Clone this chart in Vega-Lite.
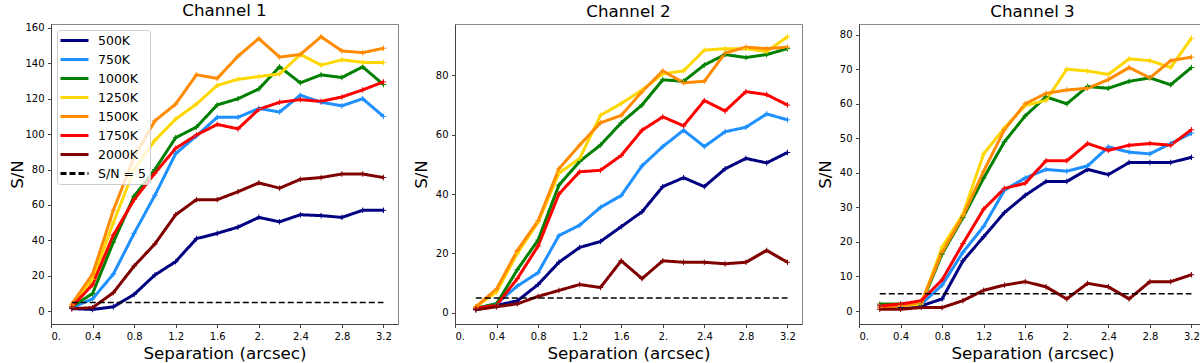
{
"$schema": "https://vega.github.io/schema/vega-lite/v6.json",
"padding": {"left": 8, "top": 2, "right": 0, "bottom": 0},
"spacing": 13,
"datasets": {"d": [
{"c":1,"s":"500K","x":0.2,"y":1.5},{"c":1,"s":"500K","x":0.4,"y":1},{"c":1,"s":"500K","x":0.6,"y":2.5},{"c":1,"s":"500K","x":0.8,"y":9.5},{"c":1,"s":"500K","x":1.0,"y":20.5},{"c":1,"s":"500K","x":1.2,"y":28},{"c":1,"s":"500K","x":1.4,"y":41},{"c":1,"s":"500K","x":1.6,"y":44},{"c":1,"s":"500K","x":1.8,"y":47.5},{"c":1,"s":"500K","x":2.0,"y":53},{"c":1,"s":"500K","x":2.2,"y":50.5},{"c":1,"s":"500K","x":2.4,"y":54.5},{"c":1,"s":"500K","x":2.6,"y":54},{"c":1,"s":"500K","x":2.8,"y":53},{"c":1,"s":"500K","x":3.0,"y":57},{"c":1,"s":"500K","x":3.2,"y":57},
{"c":1,"s":"750K","x":0.2,"y":2},{"c":1,"s":"750K","x":0.4,"y":7},{"c":1,"s":"750K","x":0.6,"y":21},{"c":1,"s":"750K","x":0.8,"y":44},{"c":1,"s":"750K","x":1.0,"y":65.5},{"c":1,"s":"750K","x":1.2,"y":89},{"c":1,"s":"750K","x":1.4,"y":99},{"c":1,"s":"750K","x":1.6,"y":109.5},{"c":1,"s":"750K","x":1.8,"y":109.5},{"c":1,"s":"750K","x":2.0,"y":114.5},{"c":1,"s":"750K","x":2.2,"y":112.5},{"c":1,"s":"750K","x":2.4,"y":122},{"c":1,"s":"750K","x":2.6,"y":118},{"c":1,"s":"750K","x":2.8,"y":116},{"c":1,"s":"750K","x":3.0,"y":120},{"c":1,"s":"750K","x":3.2,"y":110},
{"c":1,"s":"1000K","x":0.2,"y":2.5},{"c":1,"s":"1000K","x":0.4,"y":10},{"c":1,"s":"1000K","x":0.6,"y":39},{"c":1,"s":"1000K","x":0.8,"y":65},{"c":1,"s":"1000K","x":1.0,"y":80},{"c":1,"s":"1000K","x":1.2,"y":98},{"c":1,"s":"1000K","x":1.4,"y":104},{"c":1,"s":"1000K","x":1.6,"y":116.5},{"c":1,"s":"1000K","x":1.8,"y":120},{"c":1,"s":"1000K","x":2.0,"y":125.5},{"c":1,"s":"1000K","x":2.2,"y":138},{"c":1,"s":"1000K","x":2.4,"y":129},{"c":1,"s":"1000K","x":2.6,"y":133.5},{"c":1,"s":"1000K","x":2.8,"y":132},{"c":1,"s":"1000K","x":3.0,"y":138},{"c":1,"s":"1000K","x":3.2,"y":128},
{"c":1,"s":"1250K","x":0.2,"y":3.5},{"c":1,"s":"1250K","x":0.4,"y":18},{"c":1,"s":"1250K","x":0.6,"y":50},{"c":1,"s":"1250K","x":0.8,"y":80},{"c":1,"s":"1250K","x":1.0,"y":96.5},{"c":1,"s":"1250K","x":1.2,"y":108.5},{"c":1,"s":"1250K","x":1.4,"y":117},{"c":1,"s":"1250K","x":1.6,"y":127.5},{"c":1,"s":"1250K","x":1.8,"y":131},{"c":1,"s":"1250K","x":2.0,"y":132.5},{"c":1,"s":"1250K","x":2.2,"y":134},{"c":1,"s":"1250K","x":2.4,"y":145},{"c":1,"s":"1250K","x":2.6,"y":139},{"c":1,"s":"1250K","x":2.8,"y":142},{"c":1,"s":"1250K","x":3.0,"y":140.5},{"c":1,"s":"1250K","x":3.2,"y":140.5},
{"c":1,"s":"1500K","x":0.2,"y":4},{"c":1,"s":"1500K","x":0.4,"y":21},{"c":1,"s":"1500K","x":0.6,"y":57},{"c":1,"s":"1500K","x":0.8,"y":87},{"c":1,"s":"1500K","x":1.0,"y":107.5},{"c":1,"s":"1500K","x":1.2,"y":117},{"c":1,"s":"1500K","x":1.4,"y":133.5},{"c":1,"s":"1500K","x":1.6,"y":131.5},{"c":1,"s":"1500K","x":1.8,"y":144},{"c":1,"s":"1500K","x":2.0,"y":154},{"c":1,"s":"1500K","x":2.2,"y":143.5},{"c":1,"s":"1500K","x":2.4,"y":145},{"c":1,"s":"1500K","x":2.6,"y":155},{"c":1,"s":"1500K","x":2.8,"y":147},{"c":1,"s":"1500K","x":3.0,"y":146},{"c":1,"s":"1500K","x":3.2,"y":148.5},
{"c":1,"s":"1750K","x":0.2,"y":2.5},{"c":1,"s":"1750K","x":0.4,"y":15},{"c":1,"s":"1750K","x":0.6,"y":43},{"c":1,"s":"1750K","x":0.8,"y":63},{"c":1,"s":"1750K","x":1.0,"y":78},{"c":1,"s":"1750K","x":1.2,"y":92},{"c":1,"s":"1750K","x":1.4,"y":99.5},{"c":1,"s":"1750K","x":1.6,"y":105.5},{"c":1,"s":"1750K","x":1.8,"y":103},{"c":1,"s":"1750K","x":2.0,"y":114},{"c":1,"s":"1750K","x":2.2,"y":118},{"c":1,"s":"1750K","x":2.4,"y":119.5},{"c":1,"s":"1750K","x":2.6,"y":118.5},{"c":1,"s":"1750K","x":2.8,"y":121},{"c":1,"s":"1750K","x":3.0,"y":125},{"c":1,"s":"1750K","x":3.2,"y":129.5},
{"c":1,"s":"2000K","x":0.2,"y":1.5},{"c":1,"s":"2000K","x":0.4,"y":2},{"c":1,"s":"2000K","x":0.6,"y":10.5},{"c":1,"s":"2000K","x":0.8,"y":25.5},{"c":1,"s":"2000K","x":1.0,"y":38},{"c":1,"s":"2000K","x":1.2,"y":54.5},{"c":1,"s":"2000K","x":1.4,"y":63},{"c":1,"s":"2000K","x":1.6,"y":63},{"c":1,"s":"2000K","x":1.8,"y":67.5},{"c":1,"s":"2000K","x":2.0,"y":72.5},{"c":1,"s":"2000K","x":2.2,"y":69.5},{"c":1,"s":"2000K","x":2.4,"y":74.5},{"c":1,"s":"2000K","x":2.6,"y":75.5},{"c":1,"s":"2000K","x":2.8,"y":77.5},{"c":1,"s":"2000K","x":3.0,"y":77.5},{"c":1,"s":"2000K","x":3.2,"y":75.5},
{"c":1,"s":"S/N = 5","x":0.2,"y":5},{"c":1,"s":"S/N = 5","x":3.2,"y":5},
{"c":2,"s":"500K","x":0.2,"y":1},{"c":2,"s":"500K","x":0.4,"y":2.5},{"c":2,"s":"500K","x":0.6,"y":4},{"c":2,"s":"500K","x":0.8,"y":9.5},{"c":2,"s":"500K","x":1.0,"y":17},{"c":2,"s":"500K","x":1.2,"y":22},{"c":2,"s":"500K","x":1.4,"y":24},{"c":2,"s":"500K","x":1.6,"y":29},{"c":2,"s":"500K","x":1.8,"y":34},{"c":2,"s":"500K","x":2.0,"y":42.5},{"c":2,"s":"500K","x":2.2,"y":45.5},{"c":2,"s":"500K","x":2.4,"y":42.5},{"c":2,"s":"500K","x":2.6,"y":48.5},{"c":2,"s":"500K","x":2.8,"y":52},{"c":2,"s":"500K","x":3.0,"y":50.5},{"c":2,"s":"500K","x":3.2,"y":54},
{"c":2,"s":"750K","x":0.2,"y":1.5},{"c":2,"s":"750K","x":0.4,"y":3},{"c":2,"s":"750K","x":0.6,"y":9},{"c":2,"s":"750K","x":0.8,"y":13.5},{"c":2,"s":"750K","x":1.0,"y":26},{"c":2,"s":"750K","x":1.2,"y":29.5},{"c":2,"s":"750K","x":1.4,"y":35.5},{"c":2,"s":"750K","x":1.6,"y":39.5},{"c":2,"s":"750K","x":1.8,"y":49.5},{"c":2,"s":"750K","x":2.0,"y":56},{"c":2,"s":"750K","x":2.2,"y":61.5},{"c":2,"s":"750K","x":2.4,"y":56},{"c":2,"s":"750K","x":2.6,"y":61},{"c":2,"s":"750K","x":2.8,"y":62.5},{"c":2,"s":"750K","x":3.0,"y":67},{"c":2,"s":"750K","x":3.2,"y":65},
{"c":2,"s":"1000K","x":0.2,"y":1.5},{"c":2,"s":"1000K","x":0.4,"y":3},{"c":2,"s":"1000K","x":0.6,"y":14.5},{"c":2,"s":"1000K","x":0.8,"y":24.5},{"c":2,"s":"1000K","x":1.0,"y":43},{"c":2,"s":"1000K","x":1.2,"y":51},{"c":2,"s":"1000K","x":1.4,"y":56.5},{"c":2,"s":"1000K","x":1.6,"y":64},{"c":2,"s":"1000K","x":1.8,"y":70},{"c":2,"s":"1000K","x":2.0,"y":78.5},{"c":2,"s":"1000K","x":2.2,"y":78},{"c":2,"s":"1000K","x":2.4,"y":83.5},{"c":2,"s":"1000K","x":2.6,"y":87},{"c":2,"s":"1000K","x":2.8,"y":86},{"c":2,"s":"1000K","x":3.0,"y":87},{"c":2,"s":"1000K","x":3.2,"y":89},
{"c":2,"s":"1250K","x":0.2,"y":2},{"c":2,"s":"1250K","x":0.4,"y":7},{"c":2,"s":"1250K","x":0.6,"y":20},{"c":2,"s":"1250K","x":0.8,"y":30.5},{"c":2,"s":"1250K","x":1.0,"y":47},{"c":2,"s":"1250K","x":1.2,"y":52},{"c":2,"s":"1250K","x":1.4,"y":66.5},{"c":2,"s":"1250K","x":1.6,"y":70.5},{"c":2,"s":"1250K","x":1.8,"y":75},{"c":2,"s":"1250K","x":2.0,"y":80.5},{"c":2,"s":"1250K","x":2.2,"y":81.5},{"c":2,"s":"1250K","x":2.4,"y":88.5},{"c":2,"s":"1250K","x":2.6,"y":89},{"c":2,"s":"1250K","x":2.8,"y":89},{"c":2,"s":"1250K","x":3.0,"y":88},{"c":2,"s":"1250K","x":3.2,"y":93},
{"c":2,"s":"1500K","x":0.2,"y":2},{"c":2,"s":"1500K","x":0.4,"y":8},{"c":2,"s":"1500K","x":0.6,"y":21},{"c":2,"s":"1500K","x":0.8,"y":31},{"c":2,"s":"1500K","x":1.0,"y":48.5},{"c":2,"s":"1500K","x":1.2,"y":56.5},{"c":2,"s":"1500K","x":1.4,"y":64},{"c":2,"s":"1500K","x":1.6,"y":66.5},{"c":2,"s":"1500K","x":1.8,"y":74.5},{"c":2,"s":"1500K","x":2.0,"y":81.5},{"c":2,"s":"1500K","x":2.2,"y":77.5},{"c":2,"s":"1500K","x":2.4,"y":78},{"c":2,"s":"1500K","x":2.6,"y":87.5},{"c":2,"s":"1500K","x":2.8,"y":89.5},{"c":2,"s":"1500K","x":3.0,"y":89},{"c":2,"s":"1500K","x":3.2,"y":89.5},
{"c":2,"s":"1750K","x":0.2,"y":1.5},{"c":2,"s":"1750K","x":0.4,"y":2.5},{"c":2,"s":"1750K","x":0.6,"y":11.5},{"c":2,"s":"1750K","x":0.8,"y":22.5},{"c":2,"s":"1750K","x":1.0,"y":40},{"c":2,"s":"1750K","x":1.2,"y":47.5},{"c":2,"s":"1750K","x":1.4,"y":48},{"c":2,"s":"1750K","x":1.6,"y":53},{"c":2,"s":"1750K","x":1.8,"y":61.5},{"c":2,"s":"1750K","x":2.0,"y":66},{"c":2,"s":"1750K","x":2.2,"y":63},{"c":2,"s":"1750K","x":2.4,"y":71.5},{"c":2,"s":"1750K","x":2.6,"y":68},{"c":2,"s":"1750K","x":2.8,"y":74.5},{"c":2,"s":"1750K","x":3.0,"y":73.5},{"c":2,"s":"1750K","x":3.2,"y":70},
{"c":2,"s":"2000K","x":0.2,"y":1},{"c":2,"s":"2000K","x":0.4,"y":2},{"c":2,"s":"2000K","x":0.6,"y":3},{"c":2,"s":"2000K","x":0.8,"y":5.5},{"c":2,"s":"2000K","x":1.0,"y":7.5},{"c":2,"s":"2000K","x":1.2,"y":9.5},{"c":2,"s":"2000K","x":1.4,"y":8.5},{"c":2,"s":"2000K","x":1.6,"y":17.5},{"c":2,"s":"2000K","x":1.8,"y":11.5},{"c":2,"s":"2000K","x":2.0,"y":17.5},{"c":2,"s":"2000K","x":2.2,"y":17},{"c":2,"s":"2000K","x":2.4,"y":17},{"c":2,"s":"2000K","x":2.6,"y":16.5},{"c":2,"s":"2000K","x":2.8,"y":17},{"c":2,"s":"2000K","x":3.0,"y":21},{"c":2,"s":"2000K","x":3.2,"y":17},
{"c":2,"s":"S/N = 5","x":0.2,"y":5},{"c":2,"s":"S/N = 5","x":3.2,"y":5},
{"c":3,"s":"500K","x":0.2,"y":1},{"c":3,"s":"500K","x":0.4,"y":1},{"c":3,"s":"500K","x":0.6,"y":1.5},{"c":3,"s":"500K","x":0.8,"y":3.5},{"c":3,"s":"500K","x":1.0,"y":14.5},{"c":3,"s":"500K","x":1.2,"y":21.5},{"c":3,"s":"500K","x":1.4,"y":28.5},{"c":3,"s":"500K","x":1.6,"y":33.5},{"c":3,"s":"500K","x":1.8,"y":37.5},{"c":3,"s":"500K","x":2.0,"y":37.5},{"c":3,"s":"500K","x":2.2,"y":41},{"c":3,"s":"500K","x":2.4,"y":39.5},{"c":3,"s":"500K","x":2.6,"y":43},{"c":3,"s":"500K","x":2.8,"y":43},{"c":3,"s":"500K","x":3.0,"y":43},{"c":3,"s":"500K","x":3.2,"y":44.5},
{"c":3,"s":"750K","x":0.2,"y":1.5},{"c":3,"s":"750K","x":0.4,"y":1.5},{"c":3,"s":"750K","x":0.6,"y":2},{"c":3,"s":"750K","x":0.8,"y":7.5},{"c":3,"s":"750K","x":1.0,"y":17},{"c":3,"s":"750K","x":1.2,"y":24.5},{"c":3,"s":"750K","x":1.4,"y":35},{"c":3,"s":"750K","x":1.6,"y":38.5},{"c":3,"s":"750K","x":1.8,"y":41},{"c":3,"s":"750K","x":2.0,"y":40.5},{"c":3,"s":"750K","x":2.2,"y":42},{"c":3,"s":"750K","x":2.4,"y":47.5},{"c":3,"s":"750K","x":2.6,"y":46},{"c":3,"s":"750K","x":2.8,"y":45.5},{"c":3,"s":"750K","x":3.0,"y":48.5},{"c":3,"s":"750K","x":3.2,"y":51.5},
{"c":3,"s":"1000K","x":0.2,"y":2},{"c":3,"s":"1000K","x":0.4,"y":2},{"c":3,"s":"1000K","x":0.6,"y":2},{"c":3,"s":"1000K","x":0.8,"y":16.5},{"c":3,"s":"1000K","x":1.0,"y":27},{"c":3,"s":"1000K","x":1.2,"y":38.5},{"c":3,"s":"1000K","x":1.4,"y":49},{"c":3,"s":"1000K","x":1.6,"y":56.5},{"c":3,"s":"1000K","x":1.8,"y":62},{"c":3,"s":"1000K","x":2.0,"y":60},{"c":3,"s":"1000K","x":2.2,"y":65},{"c":3,"s":"1000K","x":2.4,"y":64.5},{"c":3,"s":"1000K","x":2.6,"y":66.5},{"c":3,"s":"1000K","x":2.8,"y":67.5},{"c":3,"s":"1000K","x":3.0,"y":65.5},{"c":3,"s":"1000K","x":3.2,"y":70.5},
{"c":3,"s":"1250K","x":0.2,"y":1},{"c":3,"s":"1250K","x":0.4,"y":1.5},{"c":3,"s":"1250K","x":0.6,"y":2},{"c":3,"s":"1250K","x":0.8,"y":18.5},{"c":3,"s":"1250K","x":1.0,"y":28},{"c":3,"s":"1250K","x":1.2,"y":45.5},{"c":3,"s":"1250K","x":1.4,"y":53},{"c":3,"s":"1250K","x":1.6,"y":59.5},{"c":3,"s":"1250K","x":1.8,"y":61},{"c":3,"s":"1250K","x":2.0,"y":70},{"c":3,"s":"1250K","x":2.2,"y":69.5},{"c":3,"s":"1250K","x":2.4,"y":68.5},{"c":3,"s":"1250K","x":2.6,"y":73},{"c":3,"s":"1250K","x":2.8,"y":72.5},{"c":3,"s":"1250K","x":3.0,"y":70.5},{"c":3,"s":"1250K","x":3.2,"y":79},
{"c":3,"s":"1500K","x":0.2,"y":1},{"c":3,"s":"1500K","x":0.4,"y":1.5},{"c":3,"s":"1500K","x":0.6,"y":2.5},{"c":3,"s":"1500K","x":0.8,"y":17},{"c":3,"s":"1500K","x":1.0,"y":27.5},{"c":3,"s":"1500K","x":1.2,"y":40.5},{"c":3,"s":"1500K","x":1.4,"y":52.5},{"c":3,"s":"1500K","x":1.6,"y":60},{"c":3,"s":"1500K","x":1.8,"y":63},{"c":3,"s":"1500K","x":2.0,"y":64},{"c":3,"s":"1500K","x":2.2,"y":64.5},{"c":3,"s":"1500K","x":2.4,"y":67},{"c":3,"s":"1500K","x":2.6,"y":70.5},{"c":3,"s":"1500K","x":2.8,"y":67.5},{"c":3,"s":"1500K","x":3.0,"y":72.5},{"c":3,"s":"1500K","x":3.2,"y":73.5},
{"c":3,"s":"1750K","x":0.2,"y":1.5},{"c":3,"s":"1750K","x":0.4,"y":2},{"c":3,"s":"1750K","x":0.6,"y":3},{"c":3,"s":"1750K","x":0.8,"y":9},{"c":3,"s":"1750K","x":1.0,"y":19.5},{"c":3,"s":"1750K","x":1.2,"y":29.5},{"c":3,"s":"1750K","x":1.4,"y":35.5},{"c":3,"s":"1750K","x":1.6,"y":37},{"c":3,"s":"1750K","x":1.8,"y":43.5},{"c":3,"s":"1750K","x":2.0,"y":43.5},{"c":3,"s":"1750K","x":2.2,"y":48.5},{"c":3,"s":"1750K","x":2.4,"y":46.5},{"c":3,"s":"1750K","x":2.6,"y":48},{"c":3,"s":"1750K","x":2.8,"y":48.5},{"c":3,"s":"1750K","x":3.0,"y":48},{"c":3,"s":"1750K","x":3.2,"y":52.5},
{"c":3,"s":"2000K","x":0.2,"y":0.5},{"c":3,"s":"2000K","x":0.4,"y":0.5},{"c":3,"s":"2000K","x":0.6,"y":1},{"c":3,"s":"2000K","x":0.8,"y":1},{"c":3,"s":"2000K","x":1.0,"y":3},{"c":3,"s":"2000K","x":1.2,"y":6},{"c":3,"s":"2000K","x":1.4,"y":7.5},{"c":3,"s":"2000K","x":1.6,"y":8.5},{"c":3,"s":"2000K","x":1.8,"y":7},{"c":3,"s":"2000K","x":2.0,"y":3.5},{"c":3,"s":"2000K","x":2.2,"y":8},{"c":3,"s":"2000K","x":2.4,"y":7},{"c":3,"s":"2000K","x":2.6,"y":3.5},{"c":3,"s":"2000K","x":2.8,"y":8.5},{"c":3,"s":"2000K","x":3.0,"y":8.5},{"c":3,"s":"2000K","x":3.2,"y":10.5},
{"c":3,"s":"S/N = 5","x":0.2,"y":5},{"c":3,"s":"S/N = 5","x":3.2,"y":5}
]},
"data": {"name": "d"},
"resolve": {"legend": {"color": "independent", "strokeDash": "independent"}},
"hconcat": [
{
"title": "Channel 1",
"width": 347, "height": 300,
"transform": [{"filter": "datum.c == 1"}],
"encoding": {
 "x": {"field": "x", "type": "quantitative", "scale": {"domain": [0, 3.34], "nice": false, "zero": false}, "axis": {"values": [0, 0.4, 0.8, 1.2, 1.6, 2, 2.4, 2.8, 3.2], "labelExpr": "datum.value == 0 ? '0.' : datum.value == 2 ? '2.' : format(datum.value, '.1f')", "title": "Separation (arcsec)"}},
 "y": {"field": "y", "type": "quantitative", "scale": {"domain": [-7.2, 162.2], "nice": false, "zero": false}, "axis": {"values": [0, 20, 40, 60, 80, 100, 120, 140, 160], "title": "S/N"}},
 "color": {"field": "s", "type": "nominal", "scale": {"domain": ["500K", "750K", "1000K", "1250K", "1500K", "1750K", "2000K", "S/N = 5"], "range": ["#000080", "#1e90ff", "#008000", "#ffd700", "#ff8c00", "#ff0000", "#800000", "#000000"]}, "legend": {"title": null, "orient": "top-left", "offset": 6, "symbolType": "M-2.8,0H2.8", "symbolSize": 100, "symbolStrokeWidth": 3, "labelFontSize": 12.5, "labelColor": "#000", "padding": 4, "rowPadding": 6, "symbolOffset": 7, "labelOffset": 17, "strokeColor": "#cccccc", "fillColor": "rgba(255,255,255,0.8)", "cornerRadius": 3}}
},
"layer": [
 {"transform": [{"filter": "datum.s != 'S/N = 5'"}], "mark": {"type": "line", "strokeWidth": 3}, "encoding": {"strokeDash": {"field": "s", "type": "nominal", "scale": {"domain": ["500K", "750K", "1000K", "1250K", "1500K", "1750K", "2000K", "S/N = 5"], "range": [[1, 0], [1, 0], [1, 0], [1, 0], [1, 0], [1, 0], [1, 0], [6, 3]]}, "legend": {"title": null, "orient": "top-left", "offset": 6, "symbolType": "M-2.8,0H2.8", "symbolSize": 100, "symbolStrokeWidth": 3, "labelFontSize": 12.5, "labelColor": "#000", "padding": 4, "rowPadding": 6, "symbolOffset": 7, "labelOffset": 17, "strokeColor": "#cccccc", "fillColor": "rgba(255,255,255,0.8)", "cornerRadius": 3}}}},
 {"transform": [{"filter": "datum.s != 'S/N = 5'"}], "mark": {"type": "point", "shape": "M-1,0H1M0,-1V1", "filled": false, "size": 30, "strokeWidth": 1, "opacity": 1}},
 {"transform": [{"filter": "datum.s == 'S/N = 5'"}], "mark": {"type": "line", "strokeWidth": 1.5}, "encoding": {"strokeDash": {"field": "s", "type": "nominal", "scale": {"domain": ["500K", "750K", "1000K", "1250K", "1500K", "1750K", "2000K", "S/N = 5"], "range": [[1, 0], [1, 0], [1, 0], [1, 0], [1, 0], [1, 0], [1, 0], [6, 3]]}, "legend": {"title": null, "orient": "top-left", "offset": 6, "symbolType": "M-2.8,0H2.8", "symbolSize": 100, "symbolStrokeWidth": 3, "labelFontSize": 12.5, "labelColor": "#000", "padding": 4, "rowPadding": 6, "symbolOffset": 7, "labelOffset": 17, "strokeColor": "#cccccc", "fillColor": "rgba(255,255,255,0.8)", "cornerRadius": 3}}}}
]
},
{
"title": "Channel 2",
"width": 347, "height": 300,
"transform": [{"filter": "datum.c == 2"}],
"encoding": {
 "x": {"field": "x", "type": "quantitative", "scale": {"domain": [0, 3.34], "nice": false, "zero": false}, "axis": {"values": [0, 0.4, 0.8, 1.2, 1.6, 2, 2.4, 2.8, 3.2], "labelExpr": "datum.value == 0 ? '0.' : datum.value == 2 ? '2.' : format(datum.value, '.1f')", "title": "Separation (arcsec)"}},
 "y": {"field": "y", "type": "quantitative", "scale": {"domain": [-3.8, 97.3], "nice": false, "zero": false}, "axis": {"values": [0, 20, 40, 60, 80], "title": "S/N"}},
 "color": {"field": "s", "type": "nominal", "scale": {"domain": ["500K", "750K", "1000K", "1250K", "1500K", "1750K", "2000K", "S/N = 5"], "range": ["#000080", "#1e90ff", "#008000", "#ffd700", "#ff8c00", "#ff0000", "#800000", "#000000"]}, "legend": null}
},
"layer": [
 {"transform": [{"filter": "datum.s != 'S/N = 5'"}], "mark": {"type": "line", "strokeWidth": 3}, "encoding": {"strokeDash": {"field": "s", "type": "nominal", "scale": {"domain": ["500K", "750K", "1000K", "1250K", "1500K", "1750K", "2000K", "S/N = 5"], "range": [[1, 0], [1, 0], [1, 0], [1, 0], [1, 0], [1, 0], [1, 0], [6, 3]]}, "legend": null}}},
 {"transform": [{"filter": "datum.s != 'S/N = 5'"}], "mark": {"type": "point", "shape": "M-1,0H1M0,-1V1", "filled": false, "size": 30, "strokeWidth": 1, "opacity": 1}},
 {"transform": [{"filter": "datum.s == 'S/N = 5'"}], "mark": {"type": "line", "strokeWidth": 1.5}, "encoding": {"strokeDash": {"field": "s", "type": "nominal", "scale": {"domain": ["500K", "750K", "1000K", "1250K", "1500K", "1750K", "2000K", "S/N = 5"], "range": [[1, 0], [1, 0], [1, 0], [1, 0], [1, 0], [1, 0], [1, 0], [6, 3]]}, "legend": null}}}
]
},
{
"title": "Channel 3",
"width": 347, "height": 300,
"transform": [{"filter": "datum.c == 3"}],
"encoding": {
 "x": {"field": "x", "type": "quantitative", "scale": {"domain": [0, 3.34], "nice": false, "zero": false}, "axis": {"values": [0, 0.4, 0.8, 1.2, 1.6, 2, 2.4, 2.8, 3.2], "labelExpr": "datum.value == 0 ? '0.' : datum.value == 2 ? '2.' : format(datum.value, '.1f')", "title": "Separation (arcsec)"}},
 "y": {"field": "y", "type": "quantitative", "scale": {"domain": [-3.76, 83.1], "nice": false, "zero": false}, "axis": {"values": [0, 10, 20, 30, 40, 50, 60, 70, 80], "title": "S/N"}},
 "color": {"field": "s", "type": "nominal", "scale": {"domain": ["500K", "750K", "1000K", "1250K", "1500K", "1750K", "2000K", "S/N = 5"], "range": ["#000080", "#1e90ff", "#008000", "#ffd700", "#ff8c00", "#ff0000", "#800000", "#000000"]}, "legend": null}
},
"layer": [
 {"transform": [{"filter": "datum.s != 'S/N = 5'"}], "mark": {"type": "line", "strokeWidth": 3}, "encoding": {"strokeDash": {"field": "s", "type": "nominal", "scale": {"domain": ["500K", "750K", "1000K", "1250K", "1500K", "1750K", "2000K", "S/N = 5"], "range": [[1, 0], [1, 0], [1, 0], [1, 0], [1, 0], [1, 0], [1, 0], [6, 3]]}, "legend": null}}},
 {"transform": [{"filter": "datum.s != 'S/N = 5'"}], "mark": {"type": "point", "shape": "M-1,0H1M0,-1V1", "filled": false, "size": 30, "strokeWidth": 1, "opacity": 1}},
 {"transform": [{"filter": "datum.s == 'S/N = 5'"}], "mark": {"type": "line", "strokeWidth": 1.5}, "encoding": {"strokeDash": {"field": "s", "type": "nominal", "scale": {"domain": ["500K", "750K", "1000K", "1250K", "1500K", "1750K", "2000K", "S/N = 5"], "range": [[1, 0], [1, 0], [1, 0], [1, 0], [1, 0], [1, 0], [1, 0], [6, 3]]}, "legend": null}}}
]
}
],
"config": {
 "font": "DejaVu Sans",
 "view": {"stroke": "#888888", "strokeWidth": 1},
 "axis": {"grid": false, "domainColor": "#444444", "tickColor": "#444444", "labelColor": "#000000", "titleColor": "#000000", "labelFontSize": 10, "titleFontSize": 16.7, "titleFontWeight": "normal", "tickSize": 3.5, "labelPadding": 3.5, "domainWidth": 1, "tickWidth": 1},
 "axisY": {"minExtent": 22, "maxExtent": 22, "titlePadding": 3},
 "axisX": {"titlePadding": 4},
 "title": {"fontSize": 16.7, "fontWeight": "normal", "offset": 3, "color": "#000000"}
}
}
